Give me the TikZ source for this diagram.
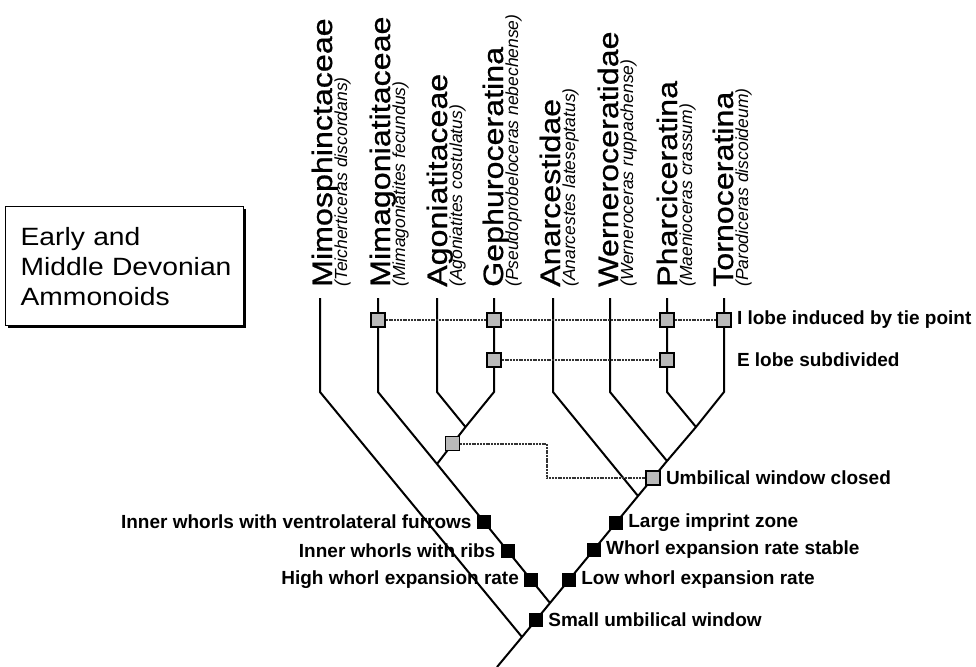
\documentclass[tikz,border=0pt]{standalone}
\usepackage{fontspec}
\setmainfont{Liberation Sans}
\newfontfamily\taxonfont[FakeStretch=1.15, FakeBold=0.8]{Liberation Sans}
\newfontfamily\titlefont[FakeStretch=1.13]{Liberation Sans}
\usetikzlibrary{positioning}
\usetikzlibrary{calc}
\usetikzlibrary{shadows}
\tikzset{
	branch/.style={line width=2pt},
	tie/.style={draw=black!80, line width=1.8pt, dash pattern=on 2pt off 0.8pt},
	apo/.style={fill=black, minimum size=14pt, inner sep=0pt},
	homo/.style={draw=black, line width=1.6pt, fill=gray!55, minimum size=14pt, inner sep=0pt},
	taxon/.style={rotate=90, anchor=base west, inner sep=0pt,
		font=\taxonfont\fontsize{28}{30}\selectfont},
	species/.style={rotate=90, anchor=base west, inner sep=0pt,
		font=\itshape\fontsize{17.5}{19}\selectfont},
	charlabel/.style={inner sep=1pt, font=\bfseries\fontsize{19}{21}\selectfont},
	titlebox/.style={draw, line width=1.2pt, fill=white,
		drop shadow={shadow xshift=2.5pt, shadow yshift=-2.5pt, fill=black, opacity=1},
		minimum width=238pt, minimum height=119pt, text width=214pt, inner xsep=12pt,
		align=left, font=\titlefont\fontsize{25}{30}\selectfont}
}
\begin{document}
\begin{tikzpicture}[x=1pt, y=-1pt]
	\useasboundingbox (0,0) rectangle (976,666);
	\node[titlebox, anchor=north west] (title) at (5,206) {\hspace*{3pt}Early and\\\hspace*{3pt}Middle Devonian\\\hspace*{3pt}Ammonoids};

	% taxa
	\node[taxon] (Mimo) at (332,287) {Mimosphinctaceae};
	\node[species] (mimoSp) at ([xshift=15pt]Mimo.base west) {(Teicherticeras discordans)};
	\node[taxon] (Mimag) at (390,287) {Mimagoniatitaceae};
	\node[species] (mimagSp) at ([xshift=15pt]Mimag.base west) {(Mimagoniatites fecundus)};
	\node[taxon] (Agon) at (447,287) {Agoniatitaceae};
	\node[species] (agonSp) at ([xshift=15pt]Agon.base west) {(Agoniatites costulatus)};
	\node[taxon] (Geph) at (503,287) {Gephuroceratina};
	\node[species] (gephSp) at ([xshift=15pt]Geph.base west) {(Pseudoprobeloceras nebechense)};
	\node[taxon] (Anar) at (560,287) {Anarcestidae};
	\node[species] (anarSp) at ([xshift=15pt]Anar.base west) {(Anarcestes lateseptatus)};
	\node[taxon] (Wern) at (618,287) {Werneroceratidae};
	\node[species] (wernSp) at ([xshift=15pt]Wern.base west) {(Werneroceras ruppachense)};
	\node[taxon] (Phar) at (677,287) {Pharciceratina};
	\node[species] (pharSp) at ([xshift=15pt]Phar.base west) {(Maenioceras crassum)};
	\node[taxon] (Torn) at (733,287) {Tornoceratina};
	\node[species] (tornSp) at ([xshift=15pt]Torn.base west) {(Parodiceras discoideum)};

	% tree
	\coordinate (tMi) at (320,298); \coordinate (bMi) at (320,392);
	\coordinate (tMa) at (378,298); \coordinate (bMa) at (378,392);
	\coordinate (tAg) at (437,298); \coordinate (bAg) at (437,392);
	\coordinate (tGe) at (494,298); \coordinate (bGe) at (494,392);
	\coordinate (tAn) at (553,298); \coordinate (bAn) at (553,392);
	\coordinate (tWe) at (610,298); \coordinate (bWe) at (610,392);
	\coordinate (tPh) at (667,298); \coordinate (bPh) at (667,392);
	\coordinate (tTo) at (724,298); \coordinate (bTo) at (724,392);
	\coordinate (agge) at (465.5,427);
	\coordinate (mage) at (437,464);
	\coordinate (phto) at (696,427);
	\coordinate (weto) at (667,461);
	\coordinate (anto) at (638,496);
	\coordinate (split) at (550,603);
	\coordinate (root) at (522,637);
	\coordinate (base) at (497,667);

	\draw[branch] (tMi) -- (bMi) -- (root);
	\draw[branch] (tMa) -- (bMa) -- (mage) -- (split);
	\draw[branch] (tAg) -- (bAg) -- (agge);
	\draw[branch] (tGe) -- (bGe) -- (agge) -- (mage);
	\draw[branch] (tAn) -- (bAn) -- (anto);
	\draw[branch] (tWe) -- (bWe) -- (weto);
	\draw[branch] (tPh) -- (bPh) -- (phto);
	\draw[branch] (tTo) -- (bTo) -- (phto) -- (weto) -- (anto) -- (split) -- (root) -- (base);

	% homoplasies
	\node[homo] (i1) at (378,320) {};
	\node[homo] (i2) at (494,320) {};
	\node[homo] (i3) at (667,320) {};
	\node[homo] (i4) at (724,320) {};
	\node[homo] (e1) at (494,360) {};
	\node[homo] (e2) at (667,360) {};
	\node[homo] (u1) at ($(agge)!0.45!(mage)$) {};
	\node[homo] (u2) at ($(bTo)!0.408!(split)$) {};
	\draw[tie] (i1) -- (i2) -- (i3) -- (i4);
	\draw[tie] (e1) -- (e2);
	\draw[tie] (u1) -| ($(u1)!0.47!(u2)$) |- (u2);
	\node[charlabel, right=4pt of i4] (ilobe) {I lobe induced by tie point};
	\node[charlabel, anchor=west] (elobe) at (ilobe.west |- e2) {E lobe subdivided};
	\node[charlabel, right=4pt of u2] (uclosed) {Umbilical window closed};

	% characters
	\node[apo] (c1) at ($(bMa)!0.616!(split)$) {};
	\node[apo] (c2) at ($(bMa)!0.754!(split)$) {};
	\node[apo] (c3) at ($(bMa)!0.891!(split)$) {};
	\node[apo] (c4) at ($(split)!0.5!(root)$) {};
	\node[apo] (c5) at ($(bTo)!0.891!(split)$) {};
	\node[apo] (c6) at ($(bTo)!0.749!(split)$) {};
	\node[apo] (c7) at ($(bTo)!0.621!(split)$) {};
	\node[charlabel, left=4pt of c1] {Inner whorls with ventrolateral furrows};
	\node[charlabel, left=4pt of c2] {Inner whorls with ribs};
	\node[charlabel, left=4pt of c3] {High whorl expansion rate};
	\node[charlabel, right=4pt of c4] {Small umbilical window};
	\node[charlabel, right=4pt of c5] {Low whorl expansion rate};
	\node[charlabel, right=4pt of c6] {Whorl expansion rate stable};
	\node[charlabel, right=4pt of c7] {Large imprint zone};
\end{tikzpicture}
\end{document}
